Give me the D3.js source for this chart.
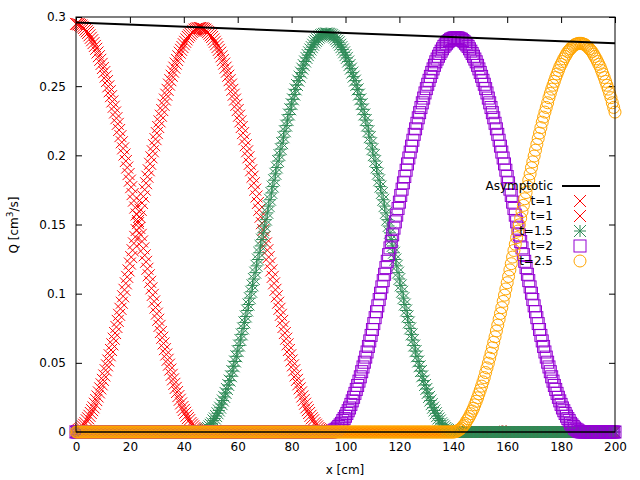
<!DOCTYPE html>
<html><head><meta charset="utf-8">
<script src="https://cdn.jsdelivr.net/npm/d3@7"></script>
<style>body{margin:0;background:#fff}text{font-family:"DejaVu Sans",sans-serif;font-size:12px}</style>
</head><body><svg id="c" width="640" height="480"></svg>
<script>
// half profile of a pulse (fraction of peak), offset 0..47 cm in 0.5 cm steps
const profile = [1,.9997,.999,.9975,.996,.993,.990,.986,.982,.978,.972,.966,.960,.953,.946,.939,.930,.921,.912,.902,.892,.882,.871,.860,.847,.835,.823,.810,.797,.783,.769,.755,.740,.725,.710,.695,.680,.664,.648,.632,.616,.600,.583,.567,.550,.533,.517,.500,
  .483,.467,.450,.433,.417,.400,.384,.368,.352,.336,.320,.305,.290,.275,.260,.245,.231,.217,.203,.190,.177,.165,.153,.140,.129,.118,.108,.098,.088,.079,.070,.061,.054,.047,.040,.034,.029,.022,.018,.014,.010,.007,.005,.0025,.001,.0003,0];
const names = ["t=1","t=1","t=1.5","t=2","t=2.5"];
const centers = [0,46,93,141,187];
const peaks = [.295,.292,.288,.285,.281];
const colors = ["#ff0000","#ff0000","#2e8b57","#9400d3","#ffa500"];
const symbols = ["x","x","star","square","circle"];
const asymX = [0,200];
const asymY = [.296,.281];
const xTicks = d3.range(0,201,20);
const yTicks = [0,.05,.1,.15,.2,.25,.3];

const svg = d3.select("#c");
const x = d3.scaleLinear().domain([0,200]).range([76,615]);
const y = d3.scaleLinear().domain([0,.3]).range([432,17]);

const series = centers.map((c,i)=>d3.range(0,401).map(k=>{
  const xv = k/2;
  const d = Math.round(Math.abs(xv-c)*2);
  return [xv, d < profile.length ? peaks[i]*profile[d] : 0];
}));

svg.append("g").attr("transform","translate(0,432)")
  .call(d3.axisBottom(x).tickValues(xTicks).tickSizeInner(-6).tickSizeOuter(0).tickPadding(10))
  .call(g=>g.select(".domain").remove());
svg.append("g").attr("transform","translate(0,17)")
  .call(d3.axisTop(x).tickValues(xTicks).tickSizeInner(-6).tickFormat("").tickSizeOuter(0))
  .call(g=>g.select(".domain").remove());
svg.append("g").attr("transform","translate(76,0)")
  .call(d3.axisLeft(y).tickValues(yTicks).tickFormat(d=>String(+d.toFixed(2))).tickSizeInner(-6).tickSizeOuter(0).tickPadding(10))
  .call(g=>g.select(".domain").remove());
svg.append("g").attr("transform","translate(615,0)")
  .call(d3.axisRight(y).tickValues(yTicks).tickFormat("").tickSizeInner(-6).tickSizeOuter(0))
  .call(g=>g.select(".domain").remove());
svg.selectAll(".tick text").attr("fill","#000").style("font-size","12px");
svg.selectAll(".tick line").attr("stroke","#000");

function marker(g, type, color){
  const s=6;
  if(type==="x"){g.append("path").attr("d",`M${-s},${-s}L${s},${s}M${-s},${s}L${s},${-s}`).attr("stroke",color).attr("fill","none");}
  else if(type==="star"){g.append("path").attr("d",`M${-s},${-s}L${s},${s}M${-s},${s}L${s},${-s}M0,${-s}L0,${s}M${-s},0L${s},0`).attr("stroke",color).attr("fill","none");}
  else if(type==="square"){g.append("rect").attr("x",-s).attr("y",-s).attr("width",2*s).attr("height",2*s).attr("stroke",color).attr("fill","none");}
  else {g.append("circle").attr("r",s).attr("stroke",color).attr("fill","none");}
}

const plot = svg.append("g");
series.forEach((data,i)=>{
  plot.selectAll(null).data(data).join("g")
    .attr("transform",d=>`translate(${x(d[0])},${y(d[1])})`)
    .each(function(){marker(d3.select(this),symbols[i],colors[i]);});
});

svg.append("line").attr("x1",x(asymX[0])).attr("y1",y(asymY[0])).attr("x2",x(asymX[1])).attr("y2",y(asymY[1]))
  .attr("stroke","#000").attr("stroke-width",2);
svg.append("line").attr("x1",76).attr("x2",615).attr("y1",y(0)).attr("y2",y(0)).attr("stroke","#000");

const leg = svg.append("g");
const rows = ["Asymptotic"].concat(names);
rows.forEach((t,i)=>{
  const yy = 186 + i*15;
  leg.append("text").attr("x",553).attr("y",yy+4).attr("text-anchor","end").text(t);
  if(i===0) leg.append("line").attr("x1",562).attr("x2",600).attr("y1",yy).attr("y2",yy).attr("stroke","#000").attr("stroke-width",2);
  else marker(leg.append("g").attr("transform",`translate(580,${yy})`),symbols[i-1],colors[i-1]);
});

svg.append("rect").attr("x",76).attr("y",17).attr("width",539).attr("height",415).attr("fill","none").attr("stroke","#000");

svg.append("text").attr("x",345).attr("y",474).attr("text-anchor","middle").text("x [cm]");
svg.append("text").attr("transform","translate(18,225) rotate(-90)").attr("text-anchor","middle")
  .html('Q [cm<tspan dy="-5" font-size="9px">3</tspan><tspan dy="5">/s]</tspan>');
</script></body></html>
